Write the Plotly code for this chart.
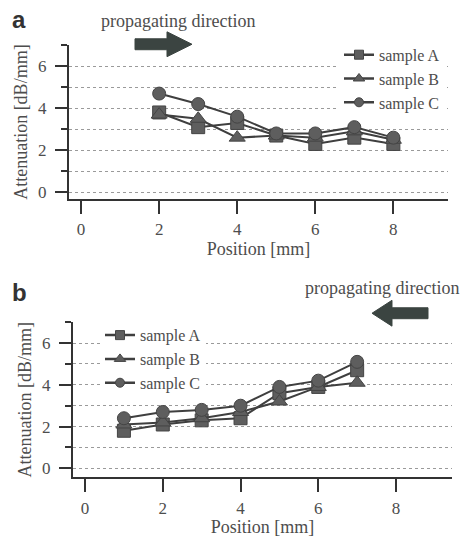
import plotly.graph_objects as go

W, H = 462, 537

# ---- data ----
pos_a = [2, 3, 4, 5, 6, 7, 8]
a_sampleA = [3.8, 3.1, 3.3, 2.7, 2.3, 2.6, 2.3]
a_sampleB = [3.7, 3.5, 2.6, 2.7, 2.6, 2.9, 2.5]
a_sampleC = [4.7, 4.2, 3.6, 2.8, 2.8, 3.1, 2.6]

pos_b = [1, 2, 3, 4, 5, 6, 7]
b_sampleA = [1.8, 2.1, 2.3, 2.4, 3.6, 3.9, 4.7]
b_sampleB = [2.1, 2.2, 2.4, 2.7, 3.2, 3.9, 4.1]
b_sampleC = [2.4, 2.7, 2.8, 3.0, 3.9, 4.2, 5.1]

series_names = ["sample A", "sample B", "sample C"]
x_ticks = [0, 2, 4, 6, 8]
y_ticks = [0, 2, 4, 6]

# ---- styles ----
SERIF = "Liberation Serif, Times New Roman, serif"
TXT = "#4d4d4d"
LINE = "#3f3f3f"
MFILL = "#5e5e5e"
symbols = ["square", "triangle-up", "circle"]
msizes = [13, 14, 13]
leg_sizes = [9, 10, 9]


def px_x(p):
    return p / W


def px_y(p):
    return 1 - p / H


fig = go.Figure()

for i, (nm, ya, yb) in enumerate(zip(series_names,
                                     [a_sampleA, a_sampleB, a_sampleC],
                                     [b_sampleA, b_sampleB, b_sampleC])):
    for xs, ys, xa, ya_, lg in [(pos_a, ya, "x", "y", "legend"),
                                (pos_b, yb, "x2", "y2", "legend2")]:
        fig.add_trace(go.Scatter(
            x=xs, y=ys, name=nm, mode="lines+markers", showlegend=False,
            line=dict(color=LINE, width=2),
            marker=dict(symbol=symbols[i], size=msizes[i], color=MFILL,
                        line=dict(color="#444", width=1)),
            xaxis=xa, yaxis=ya_))
        # legend entry (smaller symbol, as in the original key)
        fig.add_trace(go.Scatter(
            x=[None], y=[None], name=nm, mode="lines+markers",
            line=dict(color=LINE, width=2.5),
            marker=dict(symbol=symbols[i], size=leg_sizes[i], color=MFILL,
                        line=dict(color="#444", width=1)),
            xaxis=xa, yaxis=ya_, legend=lg))

common_x = dict(
    tickmode="array", tickvals=x_ticks, ticks="outside", ticklen=13,
    tickwidth=2, tickcolor="#333", showline=True, linecolor="#333",
    linewidth=2, showgrid=False, zeroline=False, ticklabelstandoff=1,
    tickfont=dict(family=SERIF, size=17, color=TXT),
    title=dict(text="Position [mm]", font=dict(family=SERIF, size=18, color=TXT),
               standoff=0),
)
common_y = dict(
    tickmode="array", tickvals=y_ticks, ticks="outside", ticklen=12,
    tickwidth=2, tickcolor="#333", showline=True, linecolor="#333",
    linewidth=2, showgrid=True, gridcolor="#9a9a9a", griddash="dot",
    gridwidth=1, zeroline=False, ticklabelstandoff=5,
    minor=dict(dtick=1, tick0=0, ticks="outside", ticklen=6, tickwidth=2,
               tickcolor="#333", showgrid=True, gridcolor="#9a9a9a",
               griddash="dot", gridwidth=1),
    tickfont=dict(family=SERIF, size=17, color=TXT),
    title=dict(text="Attenuation [dB/mm]",
               font=dict(family=SERIF, size=18, color=TXT), standoff=6),
)

fig.update_layout(
    width=W, height=H, margin=dict(l=0, r=0, t=0, b=0),
    paper_bgcolor="white", plot_bgcolor="white",
    xaxis=dict(common_x, domain=[px_x(69), px_x(448)], range=[-0.31, 9.4],
               anchor="y"),
    yaxis=dict(common_y, domain=[px_y(200), px_y(45.6)], range=[-0.32, 7],
               anchor="x"),
    xaxis2=dict(common_x, domain=[px_x(73), px_x(452)], range=[-0.31, 9.44],
                anchor="y2"),
    yaxis2=dict(common_y, domain=[px_y(480), px_y(324)], range=[-0.43, 7],
                anchor="x2"),
    legend=dict(x=px_x(339), y=px_y(38), xanchor="left", yanchor="top",
                bgcolor="white", font=dict(family=SERIF, size=16, color=TXT),
                entrywidth=110),
    legend2=dict(x=px_x(100), y=px_y(320), xanchor="left", yanchor="top",
                 bgcolor="white", font=dict(family=SERIF, size=16, color=TXT),
                 entrywidth=75),
    showlegend=True,
)

# panel labels and direction texts
fig.add_annotation(x=px_x(10), y=px_y(20), xref="paper", yref="paper",
                   text="<b>a</b>", showarrow=False, xanchor="left",
                   yanchor="middle",
                   font=dict(family="Liberation Sans, Arial", size=24, color="#333"))
fig.add_annotation(x=px_x(10), y=px_y(294), xref="paper", yref="paper",
                   text="<b>b</b>", showarrow=False, xanchor="left",
                   yanchor="middle",
                   font=dict(family="Liberation Sans, Arial", size=24, color="#333"))
fig.add_annotation(x=px_x(99), y=px_y(21), xref="paper", yref="paper",
                   text="propagating direction", showarrow=False, xanchor="left",
                   yanchor="middle",
                   font=dict(family=SERIF, size=18, color=TXT))
fig.add_annotation(x=px_x(461), y=px_y(290), xref="paper", yref="paper",
                   text="propagating direction", showarrow=False, xanchor="right",
                   yanchor="middle",
                   font=dict(family=SERIF, size=18, color=TXT))


def block_arrow(tail, tip, base, yc, shaft_h, head_h):
    pts = [(tail, yc - shaft_h / 2), (base, yc - shaft_h / 2),
           (base, yc - head_h / 2), (tip, yc), (base, yc + head_h / 2),
           (base, yc + shaft_h / 2), (tail, yc + shaft_h / 2)]
    path = "M " + " L ".join(f"{px_x(x):.5f},{px_y(y):.5f}" for x, y in pts) + " Z"
    return dict(type="path", xref="paper", yref="paper", path=path,
                fillcolor="#3b4441", line=dict(color="#3b4441", width=1),
                layer="above")


fig.add_shape(block_arrow(135, 192, 167, 44.5, 11, 25))
fig.add_shape(block_arrow(428, 372, 392, 315, 11, 26))

fig.write_html("out.html")
